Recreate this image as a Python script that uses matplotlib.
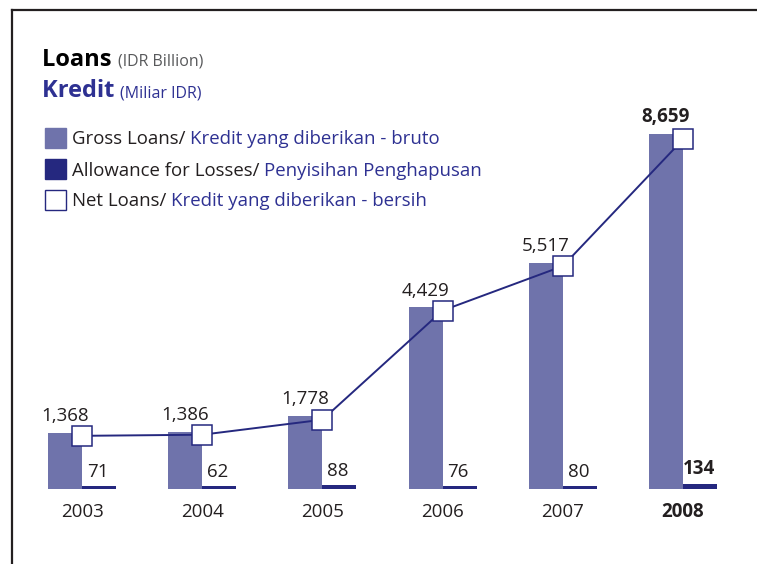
import matplotlib
matplotlib.use("Agg")
import matplotlib.pyplot as plt
from matplotlib.lines import Line2D
from matplotlib.patches import Rectangle

# datos
years = ["2003", "2004", "2005", "2006", "2007", "2008"]
gross = [1368, 1386, 1778, 4429, 5517, 8659]
allowance = [71, 62, 88, 76, 80, 134]
net = [g - a for g, a in zip(gross, allowance)]

gross_labels = ["1,368", "1,386", "1,778", "4,429", "5,517", "8,659"]
allow_labels = ["71", "62", "88", "76", "80", "134"]

C_GROSS = "#6f73ab"
C_ALLOW = "#25287f"
C_BLUE = "#2e3192"
C_GRAY = "#58595b"
C_TEXT = "#231f20"

plt.rcParams['font.family'] = ['Open Sans', 'DejaVu Sans']

W, H = 757, 564
fig = plt.figure(figsize=(W / 100, H / 100), dpi=100)
ax = fig.add_axes([0, 0, 1, 1])
ax.axis('off')

# escala: centro del grupo en px = 82 + 120.2*i ; base en y=489 px (desde arriba)
scale = 355 / 8659
ax.set_xlim(-82 / 120.2, (W - 82) / 120.2)
ax.set_ylim(-(H - 489) / scale, 489 / scale)

bw = 34 / 120.2
x = list(range(len(years)))

ax.bar([i - bw / 2 for i in x], gross, width=bw, color=C_GROSS)
ax.bar([i + bw / 2 for i in x], allowance, width=bw, color=C_ALLOW)
ax.plot(x, net, color=C_ALLOW, lw=1.4, marker='s', markersize=15,
        markerfacecolor='white', markeredgecolor=C_ALLOW, markeredgewidth=1.1, zorder=3)

for i in x:
    last = i == len(years) - 1
    wt = 'bold' if last else 'normal'
    ax.annotate(gross_labels[i], (i - bw / 2, gross[i]), xytext=(0, 8.5),
                textcoords='offset points', ha='center', va='baseline',
                fontsize=13.5, color=C_TEXT, weight=wt)
    ax.annotate(allow_labels[i], (i + bw / 2, allowance[i]), xytext=(-1, 6.5),
                textcoords='offset points', ha='center', va='baseline',
                fontsize=13.5, color=C_TEXT, weight=wt)
    ax.annotate(years[i], (i, 0), xytext=(0, -20),
                textcoords='offset points', ha='center', va='baseline',
                fontsize=13.5, color=C_TEXT, weight=wt)

# marco superior/izquierdo
fig.add_artist(Line2D([12 / W, 1], [1 - 10 / H, 1 - 10 / H], color=C_TEXT, lw=1.6,
                      transform=fig.transFigure))
fig.add_artist(Line2D([12 / W, 12 / W], [1 - 10 / H, 0], color=C_TEXT, lw=1.6,
                      transform=fig.transFigure))

renderer = fig.canvas.get_renderer()


def two_tone(xp, yp, s1, s2, c1, c2, fs1, fs2, w1='normal', w2='normal'):
    t1 = fig.text(xp / W, 1 - yp / H, s1, color=c1, fontsize=fs1, weight=w1,
                  ha='left', va='baseline')
    bb = t1.get_window_extent(renderer)
    fig.text(bb.x1 / W, 1 - yp / H, s2, color=c2, fontsize=fs2, weight=w2,
             ha='left', va='baseline')


two_tone(42, 66, "Loans ", "(IDR Billion)", "black", C_GRAY, 17, 11.5, 'bold')
two_tone(42, 97, "Kredit ", "(Miliar IDR)", C_BLUE, C_BLUE, 17, 11.5, 'bold')

legend_rows = [
    ("Gross Loans/ ", "Kredit yang diberikan - bruto", C_GROSS, C_GROSS),
    ("Allowance for Losses/ ", "Penyisihan Penghapusan", C_ALLOW, C_ALLOW),
    ("Net Loans/ ", "Kredit yang diberikan - bersih", "white", C_ALLOW),
]
for k, (s1, s2, fc, ec) in enumerate(legend_rows):
    cy = 138 + 31 * k
    fig.add_artist(Rectangle((45 / W, 1 - (cy + 10) / H), 21 / W, 20 / H,
                             facecolor=fc, edgecolor=ec, lw=1.0,
                             transform=fig.transFigure))
    two_tone(72, cy + 6.5, s1, s2, C_TEXT, C_BLUE, 13.4, 13.4)

fig.savefig("out.png", dpi=100)
